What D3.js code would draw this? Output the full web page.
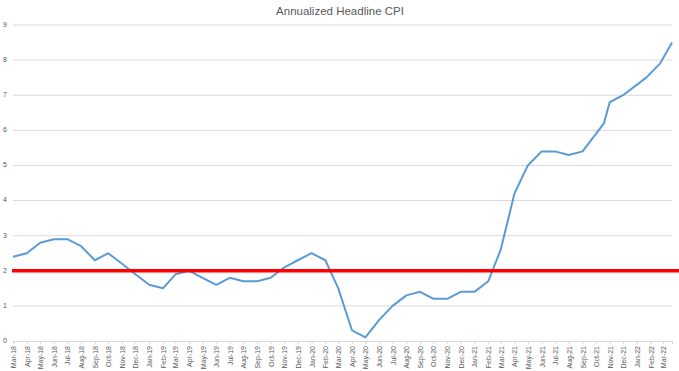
<!DOCTYPE html>
<html>
<head>
<meta charset="utf-8">
<script src="https://cdn.jsdelivr.net/npm/d3@7"></script>
<style>
  body { margin: 0; background: #fff; }
  text { font-family: "Liberation Sans", Arial, sans-serif; fill: #595959; }
</style>
</head>
<body>
<div id="chart"></div>
<script>
var width = 679;
var height = 371;

var months = ["Mar-18","Apr-18","May-18","Jun-18","Jul-18","Aug-18","Sep-18","Oct-18","Nov-18","Dec-18",
              "Jan-19","Feb-19","Mar-19","Apr-19","May-19","Jun-19","Jul-19","Aug-19","Sep-19","Oct-19","Nov-19","Dec-19",
              "Jan-20","Feb-20","Mar-20","Apr-20","May-20","Jun-20","Jul-20","Aug-20","Sep-20","Oct-20","Nov-20","Dec-20",
              "Jan-21","Feb-21","Mar-21","Apr-21","May-21","Jun-21","Jul-21","Aug-21","Sep-21","Oct-21","Nov-21","Dec-21",
              "Jan-22","Feb-22","Mar-22"];

var cpi = [2.4, 2.5, 2.8, 2.9, 2.9, 2.7, 2.3, 2.5, 2.2, 1.9,
           1.6, 1.5, 1.9, 2.0, 1.8, 1.6, 1.8, 1.7, 1.7, 1.8, 2.1, 2.3,
           2.5, 2.3, 1.5, 0.3, 0.1, 0.6, 1.0, 1.3, 1.4, 1.2, 1.2, 1.4,
           1.4, 1.7, 2.6, 4.2, 5.0, 5.4, 5.4, 5.3, 5.4, 6.2, 6.8, 7.0,
           7.5, 7.9, 8.5];

// a few points are dated later in the month (date axis)
var lateDays = { "Oct-21": 18, "Jan-22": 21, "Feb-22": 21, "Mar-22": 20 };

var yTicks = [0, 1, 2, 3, 4, 5, 6, 7, 8, 9];
var target = 2;

var parse = d3.timeParse("%b-%y");
var tickDates = months.map(parse);
var points = months.map(function(m, i) {
    return { date: d3.timeDay.offset(parse(m), lateDays[m] || 0), value: cpi[i] };
});

var svg = d3.select("#chart")
            .append("svg")
            .attr("width", width)
            .attr("height", height);

var xScale = d3.scaleTime()
            .domain([points[0].date, points[points.length - 1].date])
            .range([13, 672]);

var yScale = d3.scaleLinear()
            .domain([0, 9])
            .range([341, 25]);

// title
svg.append("text")
   .attr("x", 340).attr("y", 15)
   .attr("text-anchor", "middle")
   .style("font-size", "11.5px")
   .text("Annualized Headline CPI");

// gridlines
svg.selectAll(".grid")
   .data(yTicks.slice(1))
   .enter()
   .append("line")
   .attr("x1", 13).attr("x2", 672)
   .attr("y1", function(d) { return yScale(d); })
   .attr("y2", function(d) { return yScale(d); })
   .style("stroke", "#d9d9d9")
   .style("stroke-width", 1);

// y labels
svg.selectAll(".ylab")
   .data(yTicks)
   .enter()
   .append("text")
   .attr("x", 5)
   .attr("y", function(d) { return yScale(d); })
   .attr("text-anchor", "middle")
   .attr("dominant-baseline", "middle")
   .style("font-size", "7px")
   .text(function(d) { return d; });

// x axis
var xAxis = d3.axisBottom(xScale)
              .tickValues(tickDates)
              .tickSize(3)
              .tickFormat(d3.timeFormat("%b-%y"));

var gx = svg.append("g")
            .attr("transform", "translate(0," + yScale(0) + ")")
            .call(xAxis);
gx.select(".domain").style("stroke", "#d9d9d9");
gx.selectAll(".tick line").style("stroke", "#d9d9d9");
gx.selectAll(".tick text")
  .attr("transform", "rotate(-90)")
  .attr("x", -5).attr("y", 0).attr("dy", "0.35em")
  .attr("text-anchor", "end")
  .style("font-size", "7px")
  .style("font-family", "'Liberation Sans', Arial, sans-serif")
  .style("fill", "#595959");

// CPI line
var line = d3.line()
             .x(function(d) { return xScale(d.date); })
             .y(function(d) { return yScale(d.value); });

svg.append("path")
   .datum(points)
   .attr("d", line)
   .style("fill", "none")
   .style("stroke", "#5b9bd5")
   .style("stroke-width", 2)
   .style("stroke-linejoin", "round");

// 2% line
svg.append("line")
   .attr("x1", 12).attr("x2", 679)
   .attr("y1", yScale(target)).attr("y2", yScale(target))
   .style("stroke", "#ff0000")
   .style("stroke-width", 3.5);
</script>
</body>
</html>
